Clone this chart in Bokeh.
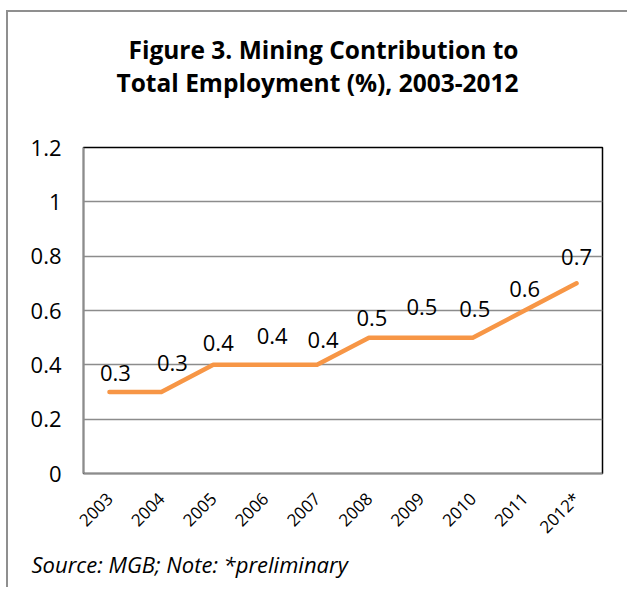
from math import pi
from bokeh.plotting import figure
from bokeh.models import (FactorRange, Range1d, FixedTicker, CustomJSTickFormatter,
                          Title, ColumnDataSource)
from bokeh.core.properties import value
from bokeh.embed import file_html
from bokeh.resources import INLINE

# ---- data ----
years = ["2003", "2004", "2005", "2006", "2007", "2008", "2009", "2010", "2011", "2012*"]
share = [0.3, 0.3, 0.4, 0.4, 0.4, 0.5, 0.5, 0.5, 0.6, 0.7]
share_labels = ["0.3", "0.3", "0.4", "0.4", "0.4", "0.5", "0.5", "0.5", "0.6", "0.7"]
y_ticks = [0, 0.2, 0.4, 0.6, 0.8, 1.0, 1.2]
y_tick_labels = ["0", "0.2", "0.4", "0.6", "0.8", "1", "1.2"]
title_line1 = "Figure 3. Mining Contribution to"
title_line2 = "Total Employment (%), 2003-2012"
source_note = "Source: MGB; Note: *preliminary"

# label placement (pixel nudges, style only)
lbl_dx = [6, 11, 5, 7, 6, 3, 1, 2, 0, 0]
lbl_dy = [-19, -29, -22, -29, -25, -20, -31, -29, -22, -26]

ORANGE = "#F79646"
GRID = "#8c8c8c"

p = figure(width=621, height=577, output_backend="svg", toolbar_location=None,
           x_range=FactorRange(*years), y_range=Range1d(0, 1.2),
           min_border_left=75, min_border_right=27, min_border_top=135,
           min_border_bottom=116, background_fill_color="white",
           border_fill_color="white")
p.title.visible = False
p.styles = {"border-left": "2px solid #8f8f8f", "border-top": "2px solid #8f8f8f",
            "margin-left": "6px", "margin-top": "10px"}

p.outline_line_color = "black"
p.outline_line_width = 1.5

# grid
p.xgrid.visible = False
p.ygrid.ticker = FixedTicker(ticks=y_ticks)
p.ygrid.grid_line_color = GRID
p.ygrid.grid_line_width = 1.5

# y axis
p.yaxis.ticker = FixedTicker(ticks=y_ticks)
p.yaxis.formatter = CustomJSTickFormatter(
    args=dict(yt=y_ticks, yl=y_tick_labels),
    code="const i = yt.findIndex(t => Math.abs(t - tick) < 1e-9); return i >= 0 ? yl[i] : '';")
p.yaxis.axis_line_color = GRID
p.yaxis.axis_line_width = 1.5
p.yaxis.major_tick_line_color = None
p.yaxis.minor_tick_line_color = None
p.yaxis.major_tick_out = 0
p.yaxis.major_label_standoff = 22
p.yaxis.major_label_text_font = "Open Sans"
p.yaxis.major_label_text_font_size = "22px"
p.yaxis.major_label_text_color = "black"

# x axis
p.xaxis.axis_line_color = GRID
p.xaxis.axis_line_width = 1.5
p.xaxis.major_tick_line_color = None
p.xaxis.minor_tick_line_color = None
p.xaxis.major_tick_out = 0
p.xaxis.major_label_standoff = 22
p.xaxis.major_label_orientation = pi / 4
p.xaxis.major_label_text_font = "Open Sans"
p.xaxis.major_label_text_font_size = "17px"
p.xaxis.major_label_text_color = "black"

src = ColumnDataSource(dict(x=years, y=share, lab=share_labels, dx=lbl_dx, dy=lbl_dy))
p.line("x", "y", source=src, line_color=ORANGE, line_width=4.5,
       line_cap="round", line_join="round")
p.text("x", "y", text="lab", source=src, x_offset="dx", y_offset="dy",
       text_align="center", text_baseline="middle",
       text_font=value("Open Sans"), text_font_size="22px", text_color="black")

# two-line title stacked above the plot (a blank spacer sits nearest the plot)
tkw = dict(align="left", text_font="Open Sans", text_font_style="bold",
           text_font_size="24.5px", text_color="black")
p.add_layout(Title(text=" ", offset=0, standoff=14, **tkw), "above")
p.add_layout(Title(text=title_line2, offset=33, standoff=0, **tkw), "above")
p.add_layout(Title(text=title_line1, offset=45, standoff=-4, **tkw), "above")

note = Title(text=source_note, align="left", offset=-52, standoff=-3,
             text_font="Open Sans", text_font_style="italic", text_font_size="22px",
             text_color="black")
p.add_layout(note, "below")

open("out.html", "w").write(file_html(p, INLINE))
